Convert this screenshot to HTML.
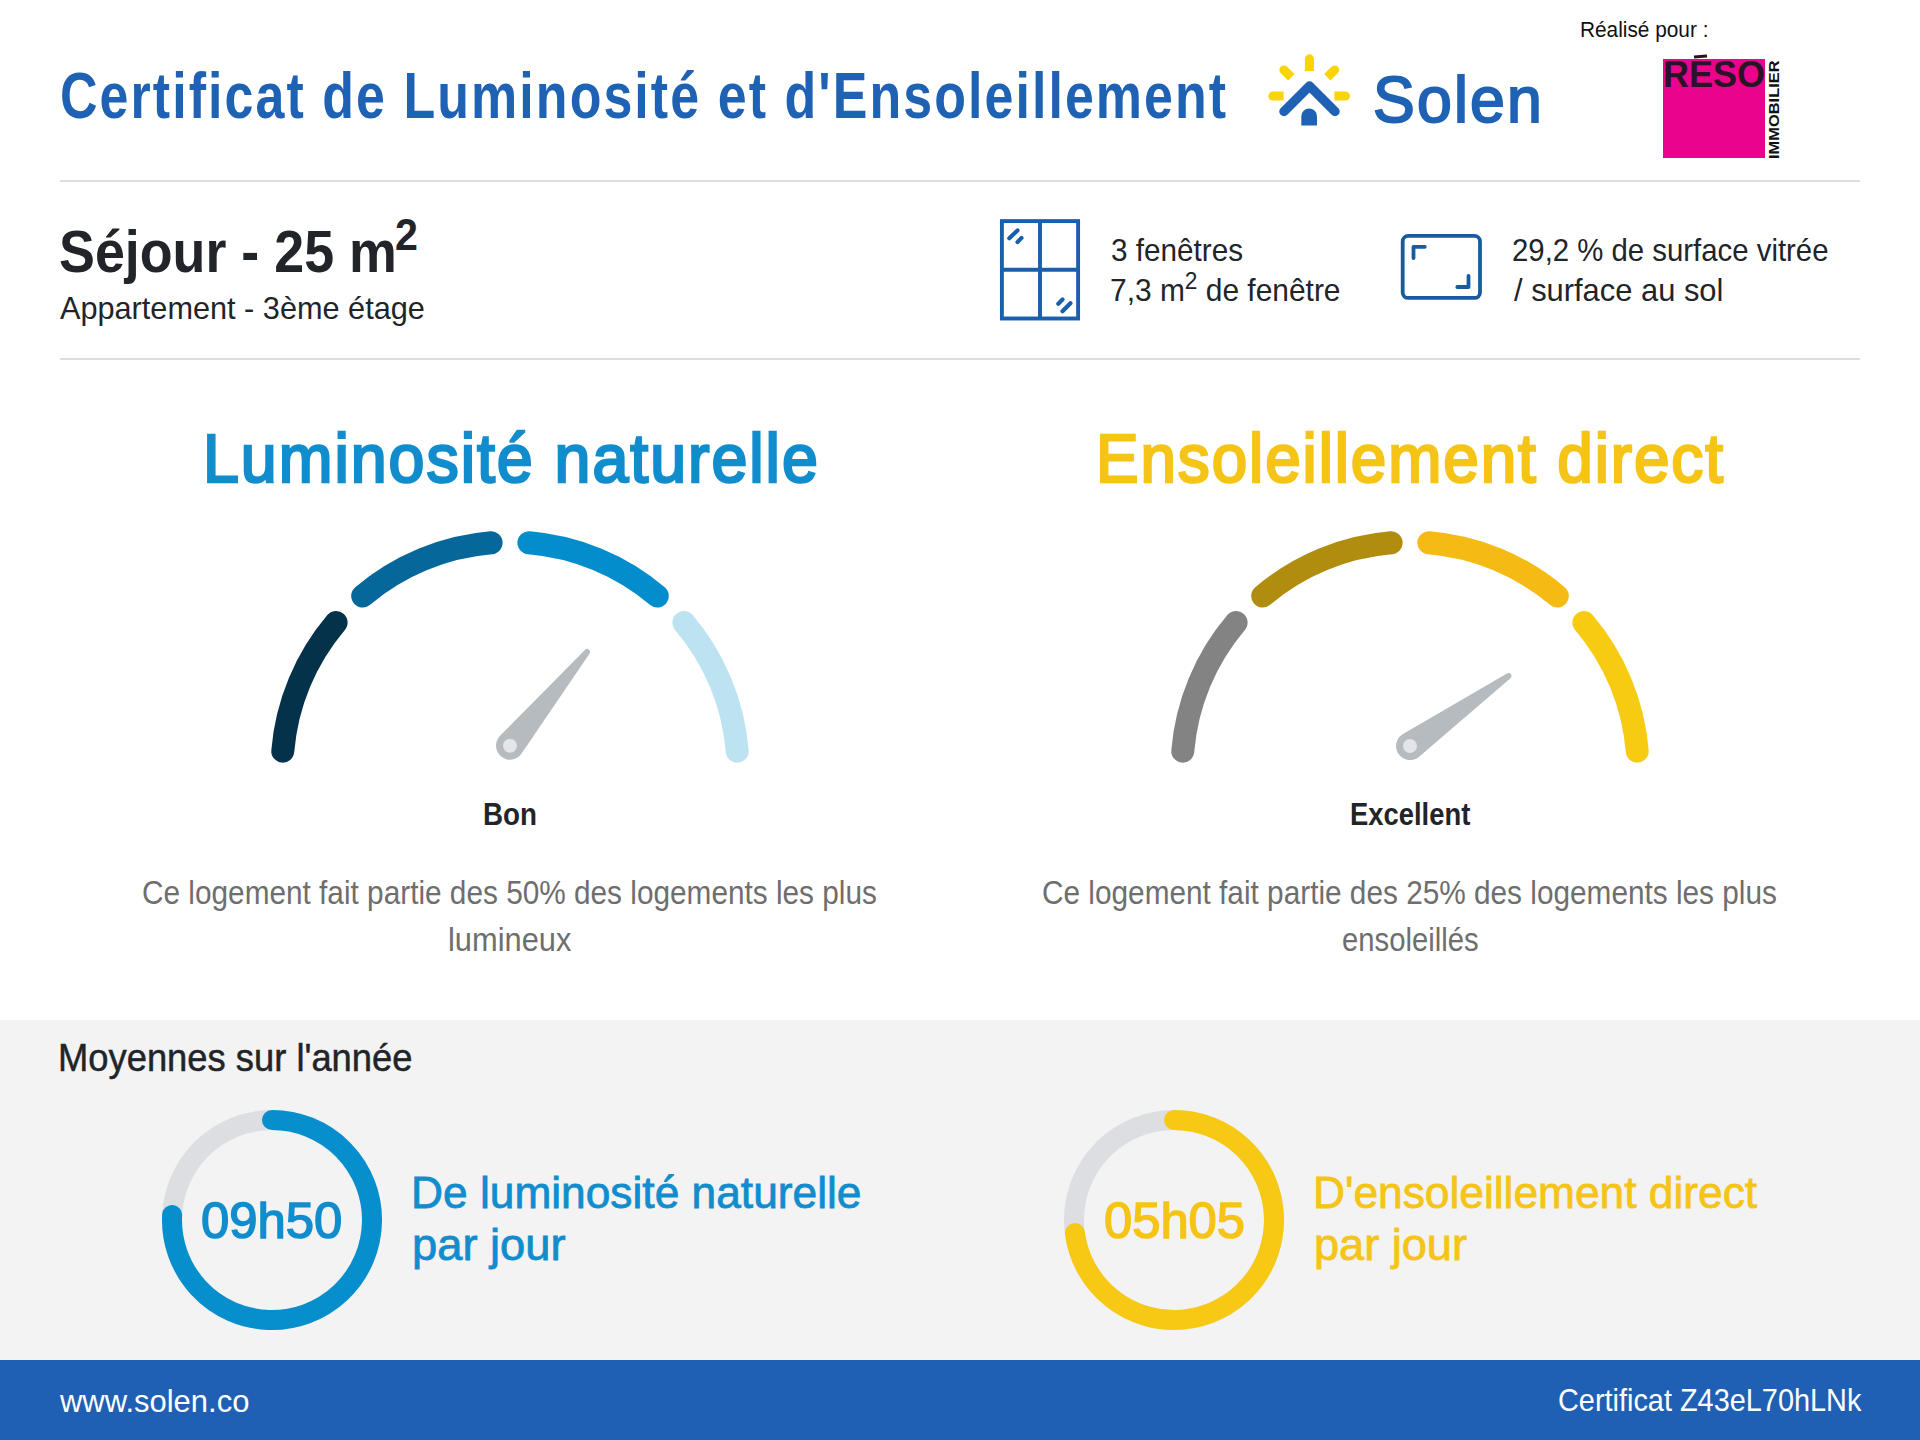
<!DOCTYPE html>
<html><head><meta charset="utf-8"><style>
html,body{margin:0;padding:0;background:#fff;}
body{width:1920px;height:1440px;position:relative;overflow:hidden;font-family:"Liberation Sans",sans-serif;}
.t{position:absolute;white-space:nowrap;transform-origin:0 0;}
.hr{position:absolute;left:60px;width:1800px;height:2px;background:#dddddd;}
</style></head><body>
<div style="position:absolute;left:0;top:1020px;width:1920px;height:340px;background:#f3f3f3"></div>
<div style="position:absolute;left:0;top:1360px;width:1920px;height:80px;background:#1f60b4"></div>
<div class="hr" style="top:180px"></div>
<div class="hr" style="top:358px"></div>
<div style="position:absolute;left:1663px;top:59px;width:102px;height:99px;background:#ea038c"></div>
<svg width="1920" height="1440" style="position:absolute;left:0;top:0">

<g fill="#fad408">
 <path d="M1304.9 71V58.9a4.55 4.55 0 0 1 9.1 0V71Z"/>
 <path d="M1268.3 91.6h15.3v8.9h-10.85a4.45 4.45 0 0 1 0-8.9Z"/>
 <path d="M1350 91.6h-15.6v8.9h11.15a4.45 4.45 0 0 0 0-8.9Z"/>
 <g transform="rotate(-45 1286 72)"><path d="M1281.5 82.5V72a4.5 4.5 0 0 1 9 0v10.5Z" transform="translate(0,-3)"/></g>
 <g transform="rotate(45 1332.6 72)"><path d="M1328.1 82.5V72a4.5 4.5 0 0 1 9 0v10.5Z" transform="translate(0,-3)"/></g>
</g>
<path d="M1284 111.5L1309.5 86L1335 111.5" stroke="#1f62b4" stroke-width="9.5" fill="none" stroke-linecap="round" stroke-linejoin="round"/>
<path d="M1301.3 125.6V116.3a7.85 7.85 0 0 1 15.7 0V125.6Z" fill="#1f62b4"/>


<g stroke="#1a5fad" fill="none" stroke-width="3.9">
 <rect x="1001.9" y="221.1" width="76.2" height="97.4"/>
 <path d="M1040 221.1V318.5M1001.9 269.8H1078.1"/>
 <g stroke-linecap="round" stroke-width="4.2">
 <path d="M1009.3 238.3L1017.5 230.4M1017.5 242.1L1021.5 237.9M1058.3 303.75L1062.5 299.6M1062.5 311.25L1070.4 303.3"/>
 </g>
</g>
<g stroke="#185b9f" fill="none" stroke-width="3.8">
 <rect x="1402.7" y="235.9" width="77.3" height="62" rx="5.5"/>
 <path d="M1413.5 258V246.8H1424.8M1468.5 276V287H1457.3" stroke-linecap="round" stroke-linejoin="round"/>
</g>

<path d="M282.78 751.12A228 228 0 0 1 336.11 622.53" stroke="#04324a" stroke-width="23" fill="none" stroke-linecap="round"/><path d="M362.68 595.98A228 228 0 0 1 491.12 542.78" stroke="#06689a" stroke-width="23" fill="none" stroke-linecap="round"/><path d="M528.88 542.78A228 228 0 0 1 657.32 595.98" stroke="#048dcc" stroke-width="23" fill="none" stroke-linecap="round"/><path d="M683.89 622.53A228 228 0 0 1 737.22 751.12" stroke="#bde3f2" stroke-width="23" fill="none" stroke-linecap="round"/><path d="M521.58 753.57L589.48 653.69A3 3 0 0 0 584.86 649.89L500.03 735.87A14 14 0 1 0 521.58 753.57Z" fill="#b6bbc0"/><circle cx="510" cy="745.7" r="7" fill="#e4e5e9"/>
<path d="M1182.78 751.12A228 228 0 0 1 1236.11 622.53" stroke="#838383" stroke-width="23" fill="none" stroke-linecap="round"/><path d="M1262.68 595.98A228 228 0 0 1 1391.12 542.78" stroke="#b08d0e" stroke-width="23" fill="none" stroke-linecap="round"/><path d="M1428.88 542.78A228 228 0 0 1 1557.32 595.98" stroke="#f5ba14" stroke-width="23" fill="none" stroke-linecap="round"/><path d="M1583.89 622.53A228 228 0 0 1 1637.22 751.12" stroke="#f6cb12" stroke-width="23" fill="none" stroke-linecap="round"/><path d="M1419.12 756.63L1510.45 678.28A3 3 0 0 0 1506.99 673.41L1402.96 733.90A14 14 0 1 0 1419.12 756.63Z" fill="#b6bbc0"/><circle cx="1410" cy="746" r="7" fill="#e4e5e9"/>
<circle cx="272" cy="1220" r="100" stroke="#dcdee1" stroke-width="20" fill="none"/><path d="M272.00 1120.00A100 100 0 1 1 172.13 1214.94" stroke="#078ecd" stroke-width="20" fill="none" stroke-linecap="round"/>
<circle cx="1174" cy="1220" r="100" stroke="#dcdee1" stroke-width="20" fill="none"/><path d="M1174.00 1120.00A100 100 0 1 1 1074.86 1233.05" stroke="#f7c914" stroke-width="20" fill="none" stroke-linecap="round"/>
</svg>
<div class="t" style="left:1662.8px;top:57px;font-size:36.5px;line-height:36.5px;font-weight:700;color:#2b1326;transform:scaleX(0.985)">RESO</div>
<div style="position:absolute;left:1694px;top:55px;width:13px;height:2.6px;background:#2b1326;transform:rotate(-4deg)"></div>
<div class="t" style="left:1766.2px;top:158.5px;font-size:15.5px;line-height:15.5px;font-weight:700;color:#111;transform:rotate(-90deg) scaleX(1.06)">IMMOBILIER</div>
<div class="t" style="left:60.02px;top:63.08px;font-size:65px;line-height:65px;font-weight:700;color:#1f62b4;transform:scaleX(0.7987);;letter-spacing:0.04em">Certificat de Luminosité et d'Ensoleillement</div>
<div class="t" style="left:1373.12px;top:68.44px;font-size:64.1px;line-height:64.1px;font-weight:400;color:#1f62b4;transform:scaleX(0.9765);-webkit-text-stroke:2.0px currentColor;letter-spacing:0.035em">Solen</div>
<div class="t" style="left:1579.53px;top:19.38px;font-size:22px;line-height:22px;font-weight:400;color:#111;transform:scaleX(0.9462);">Réalisé pour :</div>
<div class="t" style="left:59.29px;top:222.41px;font-size:60px;line-height:60px;font-weight:700;color:#212428;transform:scaleX(0.8966);">Séjour - 25 m</div>
<div class="t" style="left:395.46px;top:212.55px;font-size:44px;line-height:44px;font-weight:700;color:#212428;transform:scaleX(0.9369);">2</div>
<div class="t" style="left:60.30px;top:292.98px;font-size:31.8px;line-height:31.8px;font-weight:400;color:#212428;transform:scaleX(0.9645);">Appartement - 3ème étage</div>
<div class="t" style="left:1110.51px;top:235.10px;font-size:31.3px;line-height:31.3px;font-weight:400;color:#212428;transform:scaleX(0.9482);">3 fenêtres</div>
<div class="t" style="left:1110.20px;top:275.30px;font-size:31.3px;line-height:31.3px;font-weight:400;color:#212428;transform:scaleX(0.9559);">7,3 m<span style='position:relative;top:-0.5em;font-size:0.76em'>2</span> de fenêtre</div>
<div class="t" style="left:1512.28px;top:235.30px;font-size:31.3px;line-height:31.3px;font-weight:400;color:#212428;transform:scaleX(0.9377);">29,2 % de surface vitrée</div>
<div class="t" style="left:1513.75px;top:275.20px;font-size:31.3px;line-height:31.3px;font-weight:400;color:#212428;transform:scaleX(0.9865);">/ surface au sol</div>
<div class="t" style="left:203.03px;top:424.91px;font-size:68.5px;line-height:68.5px;font-weight:400;color:#118dcd;transform:scaleX(0.9428);-webkit-text-stroke:2.6px currentColor;letter-spacing:0.03em">Luminosité naturelle</div>
<div class="t" style="left:1096.27px;top:424.91px;font-size:68.5px;line-height:68.5px;font-weight:400;color:#f5c416;transform:scaleX(0.9313);-webkit-text-stroke:2.6px currentColor;letter-spacing:0.03em">Ensoleillement direct</div>
<div class="t" style="left:482.55px;top:799.39px;font-size:31.2px;line-height:31.2px;font-weight:700;color:#212428;transform:scaleX(0.8907);">Bon</div>
<div class="t" style="left:1349.88px;top:799.39px;font-size:31.2px;line-height:31.2px;font-weight:700;color:#212428;transform:scaleX(0.8782);">Excellent</div>
<div class="t" style="left:142.41px;top:876.93px;font-size:32.8px;line-height:32.8px;font-weight:400;color:#6e6e6e;transform:scaleX(0.9079);">Ce logement fait partie des 50% des logements les plus</div>
<div class="t" style="left:447.64px;top:923.93px;font-size:32.8px;line-height:32.8px;font-weight:400;color:#6e6e6e;transform:scaleX(0.9395);">lumineux</div>
<div class="t" style="left:1042.41px;top:876.93px;font-size:32.8px;line-height:32.8px;font-weight:400;color:#6e6e6e;transform:scaleX(0.9079);">Ce logement fait partie des 25% des logements les plus</div>
<div class="t" style="left:1341.73px;top:923.93px;font-size:32.8px;line-height:32.8px;font-weight:400;color:#6e6e6e;transform:scaleX(0.8914);">ensoleillés</div>
<div class="t" style="left:58.09px;top:1038.19px;font-size:39px;line-height:39px;font-weight:400;color:#212428;transform:scaleX(0.9320);-webkit-text-stroke:0.5px currentColor">Moyennes sur l'année</div>
<div class="t" style="left:201.38px;top:1195.70px;font-size:50.8px;line-height:50.8px;font-weight:400;color:#118dcd;transform:scaleX(1.0008);-webkit-text-stroke:1.5px currentColor">09h50</div>
<div class="t" style="left:410.90px;top:1172.49px;font-size:43.6px;line-height:43.6px;font-weight:400;color:#118dcd;transform:scaleX(1.0158);-webkit-text-stroke:0.8px currentColor">De luminosité naturelle</div>
<div class="t" style="left:411.88px;top:1224.29px;font-size:43.6px;line-height:43.6px;font-weight:400;color:#118dcd;transform:scaleX(1.0390);-webkit-text-stroke:0.8px currentColor">par jour</div>
<div class="t" style="left:1103.89px;top:1195.70px;font-size:50.8px;line-height:50.8px;font-weight:400;color:#f5c416;transform:scaleX(0.9980);-webkit-text-stroke:1.5px currentColor">05h05</div>
<div class="t" style="left:1313.30px;top:1172.49px;font-size:43.6px;line-height:43.6px;font-weight:400;color:#f5c416;transform:scaleX(1.0158);-webkit-text-stroke:0.8px currentColor">D'ensoleillement direct</div>
<div class="t" style="left:1313.69px;top:1224.29px;font-size:43.6px;line-height:43.6px;font-weight:400;color:#f5c416;transform:scaleX(1.0349);-webkit-text-stroke:0.8px currentColor">par jour</div>
<div class="t" style="left:60.00px;top:1384.81px;font-size:32px;line-height:32px;font-weight:400;color:#fff;transform:scaleX(0.9679);">www.solen.co</div>
<div class="t" style="left:1557.56px;top:1384.11px;font-size:32px;line-height:32px;font-weight:400;color:#fff;transform:scaleX(0.9025);">Certificat Z43eL70hLNk</div>
</body></html>
